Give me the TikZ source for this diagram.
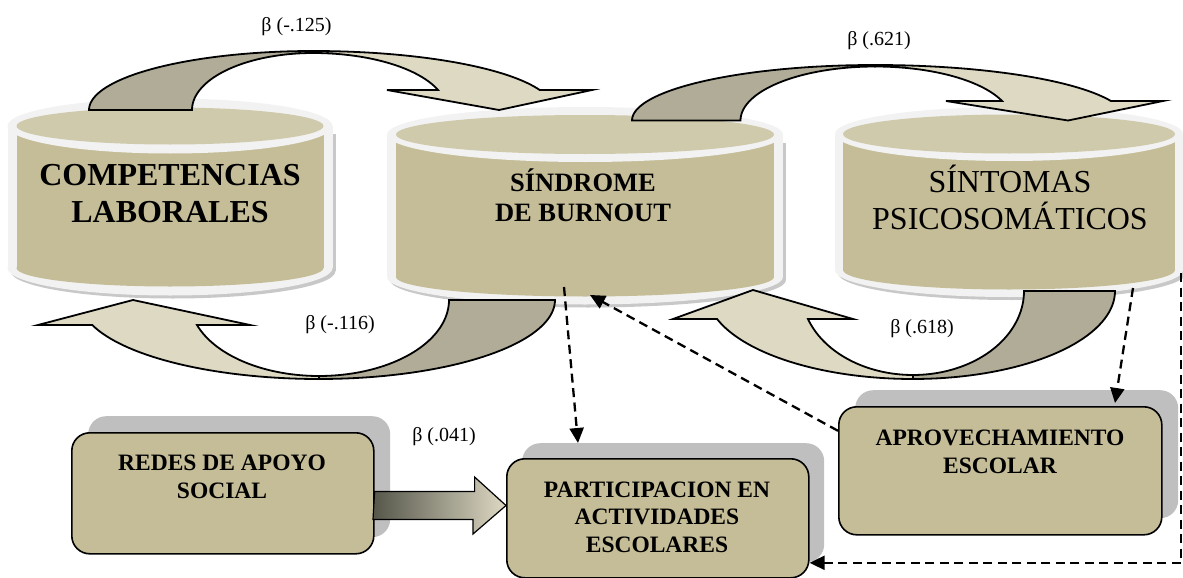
\documentclass[tikz,border=0pt]{standalone}
\usepackage{fontspec}
\setmainfont{Liberation Serif}
\usetikzlibrary{arrows.meta,calc}

\definecolor{rim}{HTML}{F2F2F2}
\definecolor{rimshadow}{HTML}{C8C8C8}
\definecolor{khaki}{HTML}{C4BD97}
\definecolor{khakitop}{HTML}{D0CAAD}
\definecolor{backband}{HTML}{B0AC97}
\definecolor{frontband}{HTML}{DDD9C3}
\definecolor{boxshadow}{HTML}{BFBFBF}
\definecolor{darkolive}{HTML}{56564A}

% cylinder: #1 cx, #2 top centre y, #3 bottom centre y,
% #4/#5 outer radii (rim), #6/#7 inner radii (khaki body)
\newcommand\drawcylinder[7]{%
  \fill[rimshadow] (#1-#4+3,#2+8) rectangle (#1+#4+3,#3+3);
  \fill[rimshadow] (#1+3,#3+3) ellipse[x radius=#4, y radius=#5];
  \fill[rim] (#1-#4,#2) rectangle (#1+#4,#3);
  \fill[rim] (#1,#3) ellipse[x radius=#4, y radius=#5];
  \fill[khaki] (#1-#6,#2) rectangle (#1+#6,#3);
  \fill[khaki] (#1,#3) ellipse[x radius=#6, y radius=#7];
  \fill[rim] (#1,#2) ellipse[x radius=#4, y radius=#5];
  \fill[khakitop] (#1,#2) ellipse[x radius=#6, y radius=#7];
}

\tikzset{
  band/.style={draw=black, line width=1.8pt, line join=miter},
  backpart/.style={band, fill=backband},
  frontpart/.style={band, fill=frontband},
  cyltitle/.style={anchor=base, align=center, inner sep=0pt},
  boxtitle/.style={anchor=base, align=center, inner sep=0pt,
    font=\fontsize{23.5}{27.5}\selectfont\bfseries},
  betalabel/.style={anchor=base, inner sep=0pt, font=\fontsize{20}{24}\selectfont},
  panel/.style={draw=black, line width=1.6pt, fill=khaki, rounded corners=18pt,
    inner sep=0pt, anchor=north west},
  panelshadow/.style={fill=boxshadow, rounded corners=18pt, inner sep=0pt,
    anchor=north west},
  dasharrow/.style={draw=black, line width=2.3pt, dash pattern=on 9pt off 5.5pt,
    -{Triangle[length=15pt,width=14pt]}},
  gradarrow/.style={draw=black, line width=1.2pt, left color=darkolive,
    right color=frontband},
}

\begin{document}
\begin{tikzpicture}[x=1pt, y=-1pt]
\useasboundingbox (0,0) rectangle (1183,578);

% ---- cylinders ----
\drawcylinder{170}{126}{268}{162.5}{27.5}{153.5}{18.5}
\drawcylinder{585}{134.5}{277}{198}{27.5}{189}{19.5}
\drawcylinder{1009}{134}{270}{174}{27}{166}{19.5}

\coordinate (sind-b1) at (564,287);
\coordinate (sind-b2) at (590,295);
\coordinate (sint-b) at (1133,288);
\coordinate (sint-r) at (1181,273);

% base anchor sits on the last line of each title
\node[cyltitle, font=\fontsize{32}{37}\selectfont\bfseries] (comp) at (170,222)
  {COMPETENCIAS\\LABORALES};
\node[cyltitle, font=\fontsize{26.5}{30}\selectfont\bfseries] (sind) at (583,221)
  {SÍNDROME\\DE BURNOUT};
\node[cyltitle, font=\fontsize{32}{37.5}\selectfont] (sint) at (1010,229.5)
  {SÍNTOMAS\\PSICOSOMÁTICOS};

% ---- curved block arrows ----
% competencias -> burnout
\filldraw[backpart]
  plot[domain=180:270, samples=40, variable=\t] ({313+224*cos(\t)},{110+59*sin(\t)})
  -- plot[domain=270:180, samples=40, variable=\t] ({313+121*cos(\t)},{110+57*sin(\t)})
  -- cycle;
\filldraw[frontpart]
  plot[domain=270:340.2, samples=40, variable=\t] ({313+241*cos(\t)},{110+59*sin(\t)})
  -- (592,90) -- (499,110) -- (387,90)
  -- plot[domain=339.5:270, samples=40, variable=\t] ({313+133.5*cos(\t)},{110+57*sin(\t)})
  -- cycle;

% burnout -> sintomas
\filldraw[backpart]
  plot[domain=180:270, samples=40, variable=\t] ({875+243*cos(\t)},{120.5+55.5*sin(\t)})
  -- plot[domain=270:180, samples=40, variable=\t] ({875+134.5*cos(\t)},{120.5+54*sin(\t)})
  -- cycle;
\filldraw[frontpart]
  plot[domain=270:339.4, samples=40, variable=\t] ({875+252*cos(\t)},{120.5+55.5*sin(\t)})
  -- (1163,101) -- (1068,120.5) -- (946,101)
  -- plot[domain=338.8:270, samples=40, variable=\t] ({875+136.2*cos(\t)},{120.5+54*sin(\t)})
  -- cycle;

% burnout -> competencias
\filldraw[backpart]
  plot[domain=0:90, samples=40, variable=\t] ({319+236*cos(\t)},{300+79*sin(\t)})
  -- plot[domain=90:0, samples=40, variable=\t] ({319+130*cos(\t)},{300+76*sin(\t)})
  -- cycle;
\filldraw[frontpart]
  plot[domain=90:161.6, samples=40, variable=\t] ({319+239*cos(\t)},{300+79*sin(\t)})
  -- (38,325) -- (133,300) -- (250,325)
  -- plot[domain=160.8:90, samples=40, variable=\t] ({319+129.2*cos(\t)},{300+76*sin(\t)})
  -- cycle;

% sintomas -> burnout
\filldraw[backpart]
  plot[domain=0:90, samples=40, variable=\t] ({913+202*cos(\t)},{291+88*sin(\t)})
  -- plot[domain=90:0, samples=40, variable=\t] ({913+111*cos(\t)},{291+84*sin(\t)})
  -- cycle;
\filldraw[frontpart]
  plot[domain=90:161.45, samples=40, variable=\t] ({913+206.7*cos(\t)},{291+88*sin(\t)})
  -- (673,319) -- (753,290) -- (853,319)
  -- plot[domain=160.5:90, samples=40, variable=\t] ({913+111.4*cos(\t)},{291+84*sin(\t)})
  -- cycle;

% ---- coefficient labels ----
\node[betalabel] (b1) at (296.5,32) {β (-.125)};
\node[betalabel] (b2) at (879,46) {β (.621)};
\node[betalabel] (b3) at (340,329) {β (-.116)};
\node[betalabel] (b4) at (922,333) {β (.618)};
\node[betalabel] (b5) at (444,441) {β (.041)};

% ---- boxes ----
\node[panelshadow, minimum width=302pt, minimum height=121pt] (redes-sh) at (88,416) {};
\node[panel, minimum width=302pt, minimum height=121pt] (redes) at (71,432) {};
\node[panelshadow, minimum width=302pt, minimum height=119pt] (partic-sh) at (522,443) {};
\node[panel, minimum width=302pt, minimum height=119pt] (partic) at (506,458) {};
\node[panelshadow, minimum width=323pt, minimum height=128pt] (aprov-sh) at (855,390) {};
\node[panel, minimum width=323pt, minimum height=128pt] (aprov) at (838,406) {};

\node[boxtitle] (redes-t) at (222,498) {REDES DE APOYO\\SOCIAL};
\node[boxtitle] (partic-t) at (657,552) {PARTICIPACION EN\\ACTIVIDADES\\ESCOLARES};
\node[boxtitle] (aprov-t) at (1000,473) {APROVECHAMIENTO\\ESCOLAR};

% ---- redes -> participacion ----
\coordinate (gmid) at (440,505.5);
\path (redes.east |- gmid) coordinate (ga-s) (partic.west |- gmid) coordinate (ga-t);
\draw[gradarrow] (ga-s) ++(0,-14) -- ++(100,0) -- ++(0,-14.5) -- (ga-t)
  -- ++(-33,28.5) -- ++(0,-14.5) -- ++(-100,0) -- cycle;

% ---- dashed links ----
\draw[dasharrow] (sind-b1) -- ([xshift=56pt]partic-sh.north west);
\draw[dasharrow] ([yshift=40pt]aprov.west) -- (sind-b2);
\draw[dasharrow] (sint-b) -- ([xshift=277pt,yshift=3pt]aprov.north west);
\draw[dasharrow] (sint-r) |- ([yshift=-44.5pt]partic.east);
\end{tikzpicture}
\end{document}
